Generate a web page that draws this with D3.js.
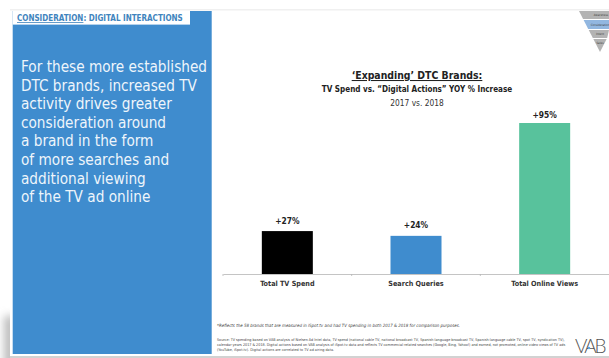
<!DOCTYPE html>
<html>
<head>
<meta charset="utf-8">
<script src="https://cdn.jsdelivr.net/npm/d3@7"></script>
<style>
  html, body { margin: 0; padding: 0; background: #fff; }
  svg { display: block; }
  text { font-family: "DejaVu Sans Condensed", "DejaVu Sans", sans-serif; font-stretch: condensed; }
</style>
</head>
<body>
<div id="chart"></div>
<script>
// Year-over-year increases shown in the bar chart
const categories = ["Total TV Spend", "Search Queries", "Total Online Views"];
const increases = [27, 24, 95];
const barColors = ["#000000", "#3f8cce", "#58c29c"];

// Copy for the slide
const sideLines = [
  "For these more established",
  "DTC brands, increased TV",
  "activity drives greater",
  "consideration around",
  "a brand in the form",
  "of more searches and",
  "additional viewing",
  "of the TV ad online"
];
const footnote = "*Reflects the 58 brands that are measured in iSpot.tv and had TV spending in both 2017 & 2018 for comparison purposes.";
const sourceLines = [
  "Source: TV spending based on VAB analysis of Nielsen Ad Intel data, TV spend (national cable TV, national broadcast TV, Spanish-language broadcast TV, Spanish-language cable TV, spot TV, syndication TV),",
  "calendar years 2017 & 2018. Digital actions based on VAB analysis of iSpot.tv data and reflects TV commercial-related searches (Google, Bing, Yahoo!) and earned, not promoted, online video views of TV ads",
  "(YouTube, iSpot.tv). Digital actions are correlated to TV ad airing data."
];
const funnelStages = ["Awareness", "Consideration", "Intent", "Sales"];

const width = 609, height = 358;
const svg = d3.select("#chart").append("svg")
  .attr("width", width).attr("height", height);

// Soft shadow behind the lower left corner of the slide
const defs = svg.append("defs");
defs.append("filter").attr("id", "soften")
  .attr("x", "-100%").attr("y", "-50%").attr("width", "300%").attr("height", "200%")
  .append("feGaussianBlur").attr("stdDeviation", 4);
svg.append("rect").attr("x", 4).attr("y", 316).attr("width", 12).attr("height", 56)
  .attr("fill", "#bcbcbc").attr("filter", "url(#soften)");

// Slide sheet with its pale upper edge and grey lower edge
svg.append("rect").attr("x", 10).attr("y", 9).attr("width", 599).attr("height", 347).attr("fill", "#fff");
svg.append("rect").attr("x", 10).attr("y", 9).attr("width", 599).attr("height", 1.5).attr("fill", "#f0f0f0");
svg.append("rect").attr("x", 10).attr("y", 356).attr("width", 599).attr("height", 2).attr("fill", "#d2d2d2");

// Left text panel
svg.append("rect").attr("x", 12.7).attr("y", 11).attr("width", 199).attr("height", 343).attr("fill", "#3f8cce");
svg.append("rect").attr("x", 12.7).attr("y", 11).attr("width", 177.3).attr("height", 13.6).attr("fill", "#fff");

const heading = svg.append("text").attr("x", 17).attr("y", 21)
  .attr("font-size", 8).attr("font-weight", 700).attr("fill", "#3f84bd");
heading.append("tspan").attr("text-decoration", "underline").text("CONSIDERATION");
heading.append("tspan").text(": DIGITAL INTERACTIONS");

svg.append("g").selectAll("text").data(sideLines).join("text")
  .attr("x", 21)
  .attr("y", (d, i) => 72 + i * 18.6)
  .attr("font-size", 15.2)
  .attr("fill", "#eef5fb")
  .text(d => d);

// Chart headings
const titleX = 417;
svg.append("text").attr("x", titleX).attr("y", 79).attr("text-anchor", "middle")
  .attr("font-size", 10.4).attr("font-weight", 700).attr("fill", "#222")
  .attr("text-decoration", "underline").text("‘Expanding’ DTC Brands:");
svg.append("text").attr("x", titleX).attr("y", 92).attr("text-anchor", "middle")
  .attr("font-size", 8.05).attr("font-weight", 700).attr("fill", "#222")
  .text("TV Spend vs. “Digital Actions” YOY % Increase");
svg.append("text").attr("x", titleX).attr("y", 106).attr("text-anchor", "middle")
  .attr("font-size", 8.3).attr("fill", "#333").text("2017 vs. 2018");

// Bars
const baseline = 274;
const x = d3.scaleBand().domain(categories).range([223, 609]).padding(0);
const y = d3.scaleLinear().domain([0, 95]).range([baseline, 123]);
const barWidth = 51;

const rows = categories.map((c, i) => ({ c, v: increases[i], color: barColors[i] }));

svg.append("g").selectAll("rect").data(rows).join("rect")
  .attr("x", d => x(d.c) + x.bandwidth() / 2 - barWidth / 2)
  .attr("y", d => y(d.v))
  .attr("width", barWidth)
  .attr("height", d => y(0) - y(d.v))
  .attr("fill", d => d.color);

// Value labels; the tall bar's label sits a little closer to make room under the headings
svg.append("g").selectAll("text").data(rows).join("text")
  .attr("x", d => x(d.c) + x.bandwidth() / 2)
  .attr("y", d => y(d.v) - (d.v > 90 ? 5 : 7.5))
  .attr("text-anchor", "middle")
  .attr("font-size", 8.4)
  .attr("font-weight", 700)
  .attr("fill", "#222")
  .text(d => `+${d.v}%`);

// Category axis with short separators between the bands
const axis = svg.append("g").attr("transform", `translate(0,${baseline})`)
  .call(d3.axisBottom(x).tickSize(0).tickPadding(7));
axis.select(".domain").attr("stroke", "#b5b5b5").attr("stroke-width", 0.8);
axis.selectAll("text")
  .attr("font-family", '"DejaVu Sans Condensed", "DejaVu Sans", sans-serif')
  .attr("font-size", 7.2).attr("font-weight", 700).attr("fill", "#333");
axis.selectAll(".sep").data(categories).join("line").attr("class", "sep")
  .attr("x1", d => x(d)).attr("x2", d => x(d))
  .attr("y1", 0).attr("y2", 2)
  .attr("stroke", "#b5b5b5").attr("stroke-width", 0.8);

// Funnel in the top right corner; the sheet's right edge trims its wide end
const funnelTop = 11, funnelCx = 600, funnelHalf = 21, funnelH = 41;
const funnelFill = ["#b3b3b3", "#92b7e0", "#b3b3b3", "#b3b3b3"];
const bandEdges = [[0, 8], [9, 18], [19, 27], [28, 41]];
const halfAt = yy => funnelHalf * (1 - yy / funnelH);
const funnel = svg.append("g");
funnelStages.forEach((stage, i) => {
  const [y0, y1] = bandEdges[i];
  const pts = [
    [funnelCx - halfAt(y0), funnelTop + y0],
    [Math.min(width, funnelCx + halfAt(y0)), funnelTop + y0],
    [Math.min(width, funnelCx + halfAt(y1)), funnelTop + y1],
    [funnelCx - halfAt(y1), funnelTop + y1]
  ];
  funnel.append("polygon").attr("points", pts.join(" ")).attr("fill", funnelFill[i]);
  funnel.append("text")
    .attr("x", i === 0 ? 601 : 600)
    .attr("y", funnelTop + (i === 3 ? y0 + 5 : (y0 + y1) / 2 + 1))
    .attr("text-anchor", "middle")
    .attr("font-size", 3)
    .attr("fill", "#444")
    .text(stage);
});

// Footnotes
svg.append("text").attr("x", 217).attr("y", 326.5)
  .attr("font-size", 4.4).attr("font-style", "italic").attr("fill", "#444").text(footnote);
svg.append("g").selectAll("text").data(sourceLines).join("text")
  .attr("x", 217)
  .attr("y", (d, i) => 341 + i * 4.8)
  .attr("font-size", 3.72)
  .attr("fill", "#444")
  .text(d => d);

// VAB wordmark with the blue accent inside the A
svg.append("text").attr("x", 575).attr("y", 353)
  .attr("style", "font-family: Lato, sans-serif; font-stretch: normal; font-weight: 300")
  .attr("font-size", 19).attr("fill", "#555").attr("letter-spacing", -2.2).text("VAB");
svg.append("circle").attr("cx", 589).attr("cy", 348).attr("r", 1.2).attr("fill", "#5aa5e0");
</script>
</body>
</html>
